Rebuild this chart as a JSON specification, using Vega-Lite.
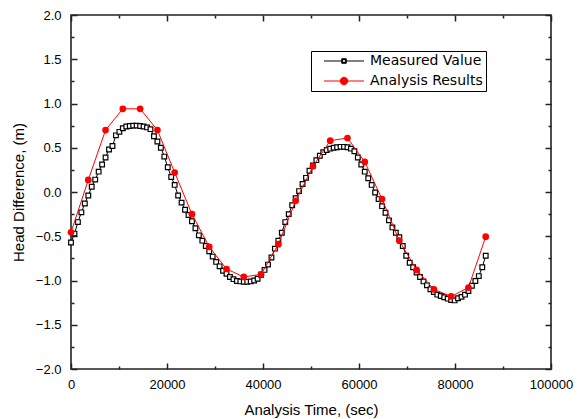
{
  "$schema": "https://vega.github.io/schema/vega-lite/v6.json",
  "width": 480,
  "height": 354,
  "autosize": {"type": "none"},
  "padding": {"left": 71, "top": 15, "right": 31, "bottom": 50},
  "background": "white",
  "config": {
    "view": {"stroke": "#222", "strokeWidth": 1.6},
    "font": "Liberation Sans"
  },
  "datasets": {
    "measured": [
      {"t":0,"h":-0.57},{"t":720,"h":-0.47},{"t":1440,"h":-0.34},{"t":2160,"h":-0.23},{"t":2880,"h":-0.13},
      {"t":3600,"h":-0.04},{"t":4320,"h":0.06},{"t":5040,"h":0.14},{"t":5760,"h":0.23},{"t":6480,"h":0.31},
      {"t":7200,"h":0.39},{"t":7920,"h":0.48},{"t":8640,"h":0.52},{"t":9360,"h":0.64},{"t":10080,"h":0.68},
      {"t":10800,"h":0.72},{"t":11520,"h":0.74},{"t":12240,"h":0.745},{"t":12960,"h":0.75},{"t":13680,"h":0.75},
      {"t":14400,"h":0.745},{"t":15120,"h":0.74},{"t":15840,"h":0.73},{"t":16560,"h":0.71},{"t":17280,"h":0.63},
      {"t":18000,"h":0.57},{"t":18720,"h":0.5},{"t":19440,"h":0.4},{"t":20160,"h":0.28},{"t":20880,"h":0.17},
      {"t":21600,"h":0.08},{"t":22320,"h":-0.04},{"t":23040,"h":-0.12},{"t":23760,"h":-0.2},{"t":24480,"h":-0.26},
      {"t":25200,"h":-0.33},{"t":25920,"h":-0.41},{"t":26640,"h":-0.49},{"t":27360,"h":-0.55},{"t":28080,"h":-0.61},
      {"t":28800,"h":-0.67},{"t":29520,"h":-0.73},{"t":30240,"h":-0.79},{"t":30960,"h":-0.84},{"t":31680,"h":-0.89},
      {"t":32400,"h":-0.925},{"t":33120,"h":-0.96},{"t":33840,"h":-0.985},{"t":34560,"h":-1.005},{"t":35280,"h":-1.01},
      {"t":36000,"h":-1.015},{"t":36720,"h":-1.015},{"t":37440,"h":-1.01},{"t":38160,"h":-1.0},{"t":38880,"h":-0.98},
      {"t":39600,"h":-0.935},{"t":40320,"h":-0.88},{"t":41040,"h":-0.82},{"t":41760,"h":-0.74},{"t":42480,"h":-0.64},
      {"t":43200,"h":-0.55},{"t":43920,"h":-0.46},{"t":44640,"h":-0.34},{"t":45360,"h":-0.25},{"t":46080,"h":-0.15},
      {"t":46800,"h":-0.07},{"t":47520,"h":0.01},{"t":48240,"h":0.09},{"t":48960,"h":0.16},{"t":49680,"h":0.24},
      {"t":50400,"h":0.3},{"t":51120,"h":0.36},{"t":51840,"h":0.41},{"t":52560,"h":0.45},{"t":53280,"h":0.475},
      {"t":54000,"h":0.49},{"t":54720,"h":0.5},{"t":55440,"h":0.505},{"t":56160,"h":0.51},{"t":56880,"h":0.51},
      {"t":57600,"h":0.505},{"t":58320,"h":0.49},{"t":59040,"h":0.46},{"t":59760,"h":0.39},{"t":60480,"h":0.31},
      {"t":61200,"h":0.23},{"t":61920,"h":0.155},{"t":62640,"h":0.08},{"t":63360,"h":-0.005},{"t":64080,"h":-0.08},
      {"t":64800,"h":-0.16},{"t":65520,"h":-0.235},{"t":66240,"h":-0.32},{"t":66960,"h":-0.4},{"t":67680,"h":-0.46},
      {"t":68400,"h":-0.51},{"t":69120,"h":-0.61},{"t":69840,"h":-0.72},{"t":70560,"h":-0.8},{"t":71280,"h":-0.85},
      {"t":72000,"h":-0.91},{"t":72720,"h":-0.96},{"t":73440,"h":-1.01},{"t":74160,"h":-1.055},{"t":74880,"h":-1.1},
      {"t":75600,"h":-1.13},{"t":76320,"h":-1.16},{"t":77040,"h":-1.175},{"t":77760,"h":-1.19},{"t":78480,"h":-1.205},
      {"t":79200,"h":-1.22},{"t":79920,"h":-1.225},{"t":80640,"h":-1.2},{"t":81360,"h":-1.185},{"t":82080,"h":-1.16},
      {"t":82800,"h":-1.12},{"t":83520,"h":-1.06},{"t":84240,"h":-1.005},{"t":84960,"h":-0.95},{"t":85680,"h":-0.85},
      {"t":86400,"h":-0.72}
    ],
    "analysis": [
      {"t":0,"h":-0.455},{"t":3600,"h":0.136},{"t":7200,"h":0.7},{"t":10800,"h":0.94},{"t":14400,"h":0.94},
      {"t":18000,"h":0.7},{"t":21600,"h":0.22},{"t":25200,"h":-0.25},{"t":28800,"h":-0.62},{"t":32400,"h":-0.87},
      {"t":36000,"h":-0.96},{"t":39600,"h":-0.93},{"t":43200,"h":-0.59},{"t":46800,"h":-0.1},{"t":50400,"h":0.29},
      {"t":54000,"h":0.58},{"t":57600,"h":0.61},{"t":61200,"h":0.34},{"t":64800,"h":-0.08},{"t":68400,"h":-0.55},
      {"t":72000,"h":-0.88},{"t":75600,"h":-1.1},{"t":79200,"h":-1.18},{"t":82800,"h":-1.08},{"t":86400,"h":-0.505}
    ]
  },
  "layer": [
    {
      "data": {"name": "measured"},
      "transform": [{"calculate": "'Measured Value'", "as": "series"}],
      "encoding": {
        "x": {
          "field": "t", "type": "quantitative",
          "scale": {"domain": [0, 100000], "nice": false, "zero": false},
          "axis": {
            "orient": "bottom",
            "values": [0,10000,20000,30000,40000,50000,60000,70000,80000,90000,100000],
            "labelExpr": "datum.value % 20000 === 0 ? format(datum.value, 'd') : ''",
            "labelFlush": false, "labelOverlap": false,
            "labelFont": "Liberation Sans", "labelFontSize": 13, "labelColor": "#000",
            "tickColor": "#222", "tickWidth": 1.5,
            "tickSize": {"condition": {"test": "datum.value % 20000 === 0", "value": -6}, "value": -3},
            "labelPadding": 15,
            "domain": false, "grid": false,
            "title": "Analysis Time, (sec)",
            "titleFont": "Liberation Sans", "titleFontSize": 15, "titleFontWeight": "normal", "titleColor": "#000",
            "titlePadding": 8
          }
        },
        "y": {
          "field": "h", "type": "quantitative",
          "scale": {"domain": [-2, 2], "nice": false, "zero": false},
          "axis": {
            "orient": "left",
            "values": [-2,-1.75,-1.5,-1.25,-1,-0.75,-0.5,-0.25,0,0.25,0.5,0.75,1,1.25,1.5,1.75,2],
            "labelExpr": "datum.value % 0.5 === 0 ? format(datum.value, '.1f') : ''",
            "labelFlush": false, "labelOverlap": false,
            "labelFont": "Liberation Sans", "labelFontSize": 13, "labelColor": "#000",
            "tickColor": "#222", "tickWidth": 1.5,
            "tickSize": {"condition": {"test": "datum.value % 0.5 === 0", "value": -6}, "value": -3},
            "labelPadding": 16,
            "domain": false, "grid": false,
            "title": "Head Difference, (m)",
            "titleFont": "Liberation Sans", "titleFontSize": 15, "titleFontWeight": "normal", "titleColor": "#000",
            "titlePadding": 9
          }
        },
        "color": {
          "field": "series", "type": "nominal",
          "scale": {"domain": ["Measured Value", "Analysis Results"], "range": ["#000000", "#ff0000"]},
          "legend": {
            "orient": "none", "legendX": 240, "legendY": 36,
            "title": null,
            "strokeColor": "#000", "fillColor": "white",
            "padding": 3,
            "labelFont": "DejaVu Sans", "labelFontSize": 14, "labelColor": "#000",
            "labelOffset": 42,
            "symbolSize": 100, "symbolStrokeWidth": 1,
            "rowPadding": 6,
            "encode": {
              "symbols": {
                "update": {
                  "shape": {"signal": "datum.value === 'Measured Value' ? 'M0.6,0H4.15M5.05,0H8.6M4.15,-0.45H5.05V0.45H4.15ZM4.32,-0.28V0.28H4.88V-0.28Z' : 'M0.6,0H8.6M3.85,0A0.75,0.75 0 1,0 5.35,0A0.75,0.75 0 1,0 3.85,0Z'"},
                  "stroke": {"signal": "datum.value === 'Measured Value' ? '#000000' : '#ff0000'"},
                  "opacity": {"value": 1}
                }
              }
            }
          }
        }
      },
      "layer": [
        {"mark": {"type": "line", "strokeWidth": 1}},
        {"mark": {"type": "point", "shape": "square", "filled": false, "fill": "white", "fillOpacity": 1, "opacity": 1, "size": 22, "strokeWidth": 1.2}}
      ]
    },
    {
      "data": {"name": "analysis"},
      "transform": [{"calculate": "'Analysis Results'", "as": "series"}],
      "encoding": {
        "x": {
          "field": "t", "type": "quantitative",
          "axis": {
            "orient": "top",
            "values": [0,10000,20000,30000,40000,50000,60000,70000,80000,90000,100000],
            "labels": false, "domain": false, "grid": false, "title": null,
            "tickColor": "#222", "tickWidth": 1.5,
            "tickSize": {"condition": {"test": "datum.value % 20000 === 0", "value": -6}, "value": -3}
          }
        },
        "y": {
          "field": "h", "type": "quantitative",
          "axis": {
            "orient": "right",
            "values": [-2,-1.75,-1.5,-1.25,-1,-0.75,-0.5,-0.25,0,0.25,0.5,0.75,1,1.25,1.5,1.75,2],
            "labels": false, "domain": false, "grid": false, "title": null,
            "tickColor": "#222", "tickWidth": 1.5,
            "tickSize": {"condition": {"test": "datum.value % 0.5 === 0", "value": -6}, "value": -3}
          }
        },
        "color": {"field": "series", "type": "nominal"}
      },
      "layer": [
        {"mark": {"type": "line", "strokeWidth": 1}},
        {"mark": {"type": "point", "shape": "circle", "filled": true, "opacity": 1, "size": 45}}
      ]
    }
  ],
  "resolve": {"axis": {"x": "independent", "y": "independent"}}
}
